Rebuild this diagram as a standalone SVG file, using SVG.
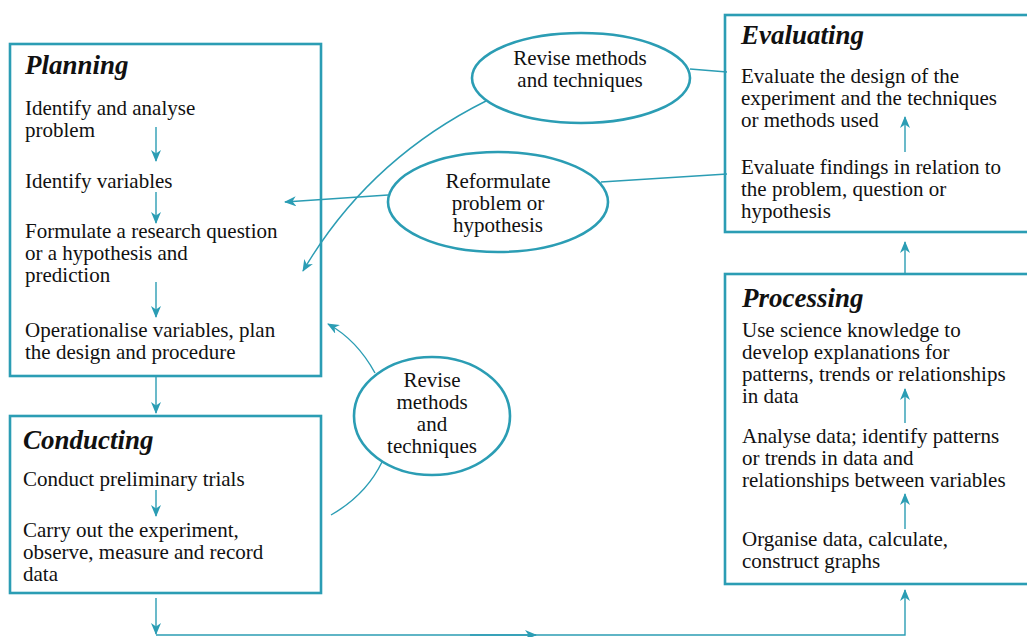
<svg xmlns="http://www.w3.org/2000/svg" width="1027" height="637" viewBox="0 0 1027 637">
<style>
.box{fill:#fff;stroke:#2b9db4;stroke-width:2.6}
.ell{fill:#fff;stroke:#2b9db4;stroke-width:2.6}
.c{fill:none;stroke:#2b9db4;stroke-width:1.4}
.t{font-family:"Liberation Serif","Times New Roman",serif;font-size:21px;fill:#111}
.h{font-family:"Liberation Serif","Times New Roman",serif;font-size:27px;font-weight:bold;font-style:italic;fill:#111}
.m{text-anchor:middle}
</style>
<defs>
<marker id="ah" viewBox="0 0 12 10" refX="11" refY="5" markerWidth="12" markerHeight="10" markerUnits="userSpaceOnUse" orient="auto">
<path d="M0,0 L12,5 L0,10 L3.5,5 z" fill="#2b9db4"/>
</marker>
</defs>
<rect width="1027" height="637" fill="#fff"/>

<g id="planning">
<rect class="box" x="10" y="44" width="311" height="332"/>
<text class="h" x="25" y="74">Planning</text>
<text class="t" x="25" y="115">Identify and analyse</text>
<text class="t" x="25" y="137">problem</text>
<text class="t" x="25" y="188">Identify variables</text>
<text class="t" x="25" y="238">Formulate a research question</text>
<text class="t" x="25" y="260">or a hypothesis and</text>
<text class="t" x="25" y="282">prediction</text>
<text class="t" x="25" y="337">Operationalise variables, plan</text>
<text class="t" x="25" y="359">the design and procedure</text>
</g>

<g id="conducting">
<rect class="box" x="10" y="416" width="311" height="177"/>
<text class="h" x="23" y="449">Conducting</text>
<text class="t" x="23" y="486">Conduct preliminary trials</text>
<text class="t" x="23" y="537">Carry out the experiment,</text>
<text class="t" x="23" y="559">observe, measure and record</text>
<text class="t" x="23" y="581">data</text>
</g>

<g id="evaluating">
<rect class="box" x="725" y="15" width="310" height="217"/>
<text class="h" x="741" y="44">Evaluating</text>
<text class="t" x="741" y="83">Evaluate the design of the</text>
<text class="t" x="741" y="105">experiment and the techniques</text>
<text class="t" x="741" y="127">or methods used</text>
<text class="t" x="741" y="174">Evaluate findings in relation to</text>
<text class="t" x="741" y="196">the problem, question or</text>
<text class="t" x="741" y="218">hypothesis</text>
</g>

<g id="processing">
<rect class="box" x="725" y="274" width="310" height="310"/>
<text class="h" x="742" y="307">Processing</text>
<text class="t" x="742" y="337">Use science knowledge to</text>
<text class="t" x="742" y="359">develop explanations for</text>
<text class="t" x="742" y="381">patterns, trends or relationships</text>
<text class="t" x="742" y="403">in data</text>
<text class="t" x="742" y="443">Analyse data; identify patterns</text>
<text class="t" x="742" y="465">or trends in data and</text>
<text class="t" x="742" y="487">relationships between variables</text>
<text class="t" x="742" y="546">Organise data, calculate,</text>
<text class="t" x="742" y="568">construct graphs</text>
</g>

<g id="revise-top">
<ellipse class="ell" cx="581" cy="78" rx="109" ry="45"/>
<text class="t m" x="580" y="65">Revise methods</text>
<text class="t m" x="580" y="87">and techniques</text>
</g>

<g id="reformulate">
<ellipse class="ell" cx="498" cy="202" rx="110" ry="50"/>
<text class="t m" x="498" y="188">Reformulate</text>
<text class="t m" x="498" y="210">problem or</text>
<text class="t m" x="498" y="232">hypothesis</text>
</g>

<g id="revise-mid">
<ellipse class="ell" cx="432" cy="416" rx="78" ry="59"/>
<text class="t m" x="432" y="387">Revise</text>
<text class="t m" x="432" y="409">methods</text>
<text class="t m" x="432" y="431">and</text>
<text class="t m" x="432" y="453">techniques</text>
</g>

<g id="connectors">
<line class="c" x1="156" y1="127" x2="156" y2="161" marker-end="url(#ah)"/>
<line class="c" x1="156" y1="192" x2="156" y2="223" marker-end="url(#ah)"/>
<line class="c" x1="156" y1="282" x2="156" y2="317" marker-end="url(#ah)"/>
<line class="c" x1="156" y1="377" x2="156" y2="413" marker-end="url(#ah)"/>
<line class="c" x1="156" y1="490" x2="156" y2="516" marker-end="url(#ah)"/>
<line class="c" x1="156" y1="598" x2="156" y2="634" marker-end="url(#ah)"/>
<polyline class="c" points="156,635 905,635 905,590" marker-end="url(#ah)"/>
<line class="c" x1="470" y1="635" x2="536" y2="635" marker-end="url(#ah)"/>
<line class="c" x1="905" y1="529" x2="905" y2="494" marker-end="url(#ah)"/>
<line class="c" x1="905" y1="423" x2="905" y2="389" marker-end="url(#ah)"/>
<line class="c" x1="905" y1="275" x2="905" y2="242" marker-end="url(#ah)"/>
<line class="c" x1="905" y1="152" x2="905" y2="117" marker-end="url(#ah)"/>
<line class="c" x1="690" y1="69" x2="727" y2="72"/>
<line class="c" x1="601" y1="182" x2="727" y2="174"/>
<path class="c" d="M486,101 Q368,160 303,271" marker-end="url(#ah)"/>
<line class="c" x1="388" y1="195" x2="285" y2="202" marker-end="url(#ah)"/>
<path class="c" d="M375,373 Q357,340 328,324" marker-end="url(#ah)"/>
<path class="c" d="M382,462 Q366,495 331,515"/>
</g>
</svg>
